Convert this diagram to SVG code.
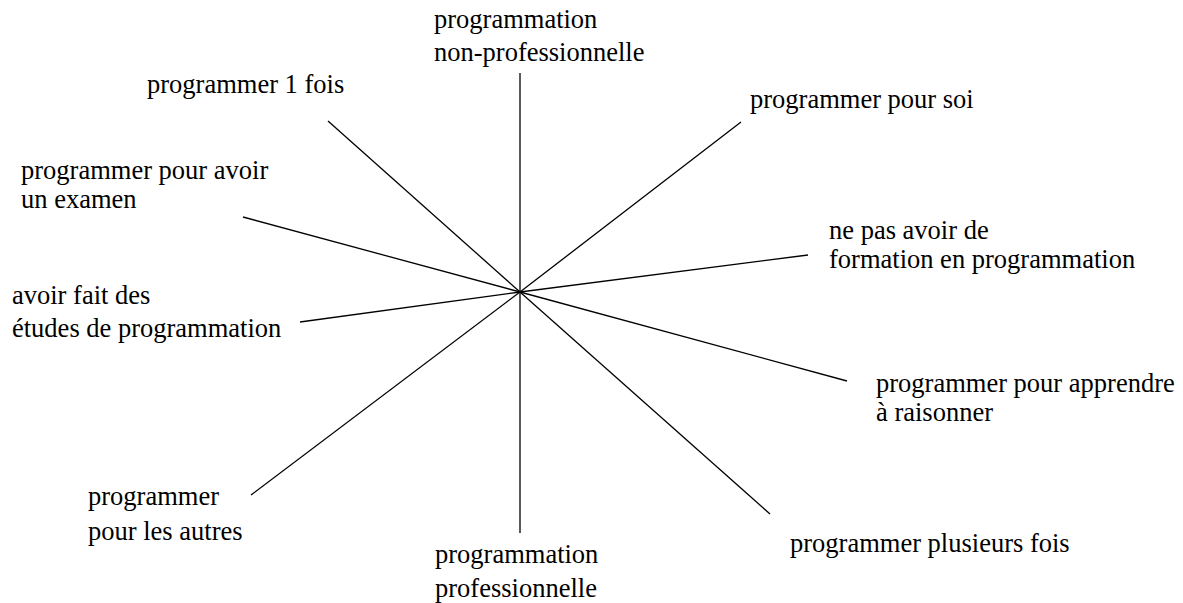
<svg xmlns="http://www.w3.org/2000/svg" width="1183" height="603" viewBox="0 0 1183 603">
<style>
text{font-family:"Liberation Serif","Times New Roman",serif;font-size:26.5px;fill:#000}
.spoke{stroke:#000;stroke-width:1.3;fill:none}
</style>
<rect width="1183" height="603" fill="#fff"/>
<g id="connectors">
<line class="spoke" x1="520" y1="292" x2="520" y2="73"/>
<line class="spoke" x1="520" y1="292" x2="520" y2="533"/>
<line class="spoke" x1="520" y1="292" x2="328" y2="121"/>
<line class="spoke" x1="520" y1="292" x2="243" y2="217"/>
<line class="spoke" x1="520" y1="292" x2="300" y2="322"/>
<line class="spoke" x1="520" y1="292" x2="251" y2="495"/>
<line class="spoke" x1="520" y1="292" x2="741" y2="122"/>
<line class="spoke" x1="520" y1="292" x2="808" y2="255"/>
<line class="spoke" x1="520" y1="292" x2="847" y2="381"/>
<line class="spoke" x1="520" y1="292" x2="770" y2="514"/>
</g>
<g id="n-nonpro"><text x="434" y="28">programmation</text><text x="434" y="61">non-professionnelle</text></g>
<g id="n-1fois"><text x="147" y="93">programmer 1 fois</text></g>
<g id="n-examen"><text x="21" y="179">programmer pour avoir</text><text x="21" y="208">un examen</text></g>
<g id="n-etudes"><text x="12" y="304">avoir fait des</text><text x="12" y="337">études de programmation</text></g>
<g id="n-autres"><text x="88" y="505">programmer</text><text x="88" y="540">pour les autres</text></g>
<g id="n-pro"><text x="435" y="563">programmation</text><text x="435" y="597">professionnelle</text></g>
<g id="n-soi"><text x="750" y="108">programmer pour soi</text></g>
<g id="n-formation"><text x="829" y="239">ne pas avoir de</text><text x="829" y="268">formation en programmation</text></g>
<g id="n-apprendre"><text x="876" y="392">programmer pour apprendre</text><text x="876" y="421">à raisonner</text></g>
<g id="n-plusieurs"><text x="790" y="552">programmer plusieurs fois</text></g>
</svg>
